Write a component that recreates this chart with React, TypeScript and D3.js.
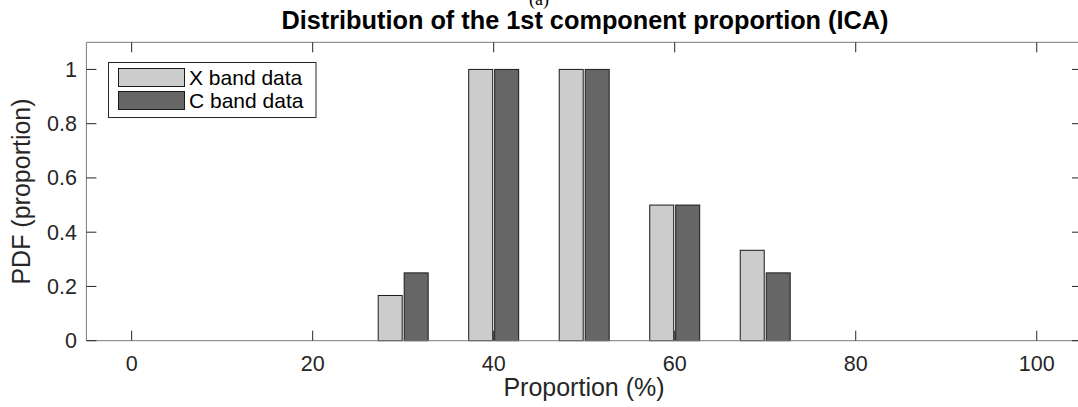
import React from "react";
import * as d3 from "d3";

const binCenters = [0, 10, 20, 30, 40, 50, 60, 70, 80, 90, 100];
const xBandValues = [0, 0, 0, 0.1667, 1, 1, 0.5, 0.3333, 0, 0, 0];
const cBandValues = [0, 0, 0, 0.25, 1, 1, 0.5, 0.25, 0, 0, 0];
const xTicks = [0, 20, 40, 60, 80, 100];
const yTicks = [0, 0.2, 0.4, 0.6, 0.8, 1];
const seriesNames = ["X band data", "C band data"];
const seriesColors = ["#cccccc", "#666666"];

const W = 1078;
const H = 407;
const left = 86.4;
const right = 1082;
const top = 42.3;
const bottom = 340.7;
const FONT = "'Liberation Sans', Arial, Helvetica, sans-serif";

export default function App() {
  const x = d3.scaleLinear().domain([-5, 105]).range([left, right]);
  const y = d3.scaleLinear().domain([0, 1.1]).range([bottom, top]);
  const barW = 2.65;
  const gap = 0.11;
  const axisColor = "#7a7a7a";
  const textColor = "#262626";

  const series = [xBandValues, cBandValues];

  return (
    <svg width={W} height={H} style={{ position: "absolute", left: 0, top: 0, background: "#fff" }}>
      <rect x={0} y={0} width={W} height={H} fill="#fff" />
      {/* (a) label */}
      <text x={539} y={5} textAnchor="middle" fontFamily="'Liberation Serif', 'Times New Roman', serif" fontSize={18} fill="#000">(a)</text>
      {/* title */}
      <text x={585} y={29} textAnchor="middle" fontFamily={FONT} fontWeight="bold" fontSize={25.3} fill="#000">
        Distribution of the 1st component proportion (ICA)
      </text>
      {/* bars */}
      {series.map((vals, si) =>
        vals.map((v, i) => {
          const c = binCenters[i];
          const x0 = si === 0 ? x(c - gap - barW) : x(c + gap);
          const x1 = si === 0 ? x(c - gap) : x(c + gap + barW);
          return (
            <rect
              key={`${si}-${i}`}
              x={x0}
              y={y(v)}
              width={x1 - x0}
              height={y(0) - y(v)}
              fill={seriesColors[si]}
              stroke="#1a1a1a"
              strokeWidth={1}
            />
          );
        })
      )}
      {/* axes box */}
      <line x1={left} y1={bottom} x2={right} y2={bottom} stroke={axisColor} strokeWidth={1} />
      <line x1={left} y1={top} x2={right} y2={top} stroke={axisColor} strokeWidth={1} />
      <line x1={left} y1={top} x2={left} y2={bottom} stroke={axisColor} strokeWidth={1} />
      <line x1={right} y1={top} x2={right} y2={bottom} stroke={axisColor} strokeWidth={1} />
      {/* x ticks */}
      {xTicks.map((t) => (
        <g key={`xt${t}`}>
          <line x1={x(t)} y1={bottom} x2={x(t)} y2={bottom - 10} stroke="#262626" strokeWidth={1} />
          <line x1={x(t)} y1={top} x2={x(t)} y2={top + 10} stroke="#262626" strokeWidth={1} />
          <text x={x(t)} y={bottom + 30.5} textAnchor="middle" fontFamily={FONT} fontSize={21.5} fill={textColor}>
            {t}
          </text>
        </g>
      ))}
      {/* y ticks */}
      {yTicks.map((t) => (
        <g key={`yt${t}`}>
          <line x1={left} y1={y(t)} x2={left + 10} y2={y(t)} stroke="#262626" strokeWidth={1} />
          <line x1={right} y1={y(t)} x2={right - 10} y2={y(t)} stroke="#262626" strokeWidth={1} />
          <text x={left - 9.5} y={y(t) + 7.5} textAnchor="end" fontFamily={FONT} fontSize={21.5} fill={textColor}>
            {t === 0 || t === 1 ? String(t) : t.toFixed(1)}
          </text>
        </g>
      ))}
      {/* axis labels */}
      <text x={584} y={396} textAnchor="middle" fontFamily={FONT} fontSize={25} fill={textColor}>
        Proportion (%)
      </text>
      <text
        transform={`translate(30, ${(top + bottom) / 2}) rotate(-90)`}
        textAnchor="middle"
        fontFamily={FONT}
        fontSize={25}
        fill={textColor}
      >
        PDF (proportion)
      </text>
      {/* legend */}
      <g>
        <rect x={108.5} y={62.5} width={207.5} height={55} fill="#fff" stroke="#262626" strokeWidth={1} />
        {seriesNames.map((name, i) => (
          <g key={name}>
            <rect x={118.5} y={68.5 + i * 23} width={66} height={18} fill={seriesColors[i]} stroke="#1a1a1a" strokeWidth={1} />
            <text x={189} y={84.5 + i * 23} fontFamily={FONT} fontSize={21} fill="#000">
              {name}
            </text>
          </g>
        ))}
      </g>
    </svg>
  );
}
